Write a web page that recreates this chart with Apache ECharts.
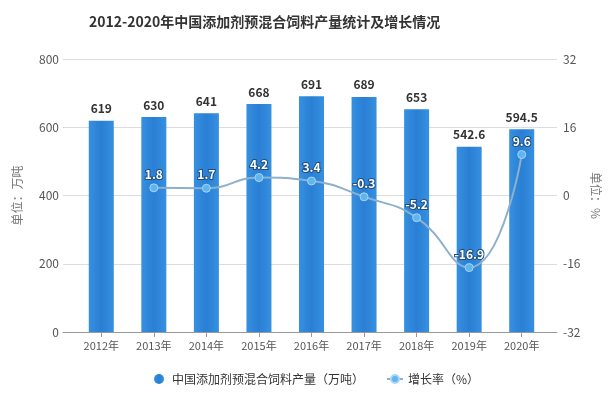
<!DOCTYPE html>
<html><head><meta charset="utf-8">
<script src="https://cdn.jsdelivr.net/npm/echarts@6/dist/echarts.min.js"></script>
<style>html,body{margin:0;padding:0;background:#fff}#c{width:612px;height:396px}</style>
</head><body><div id="c"></div>
<script>
var categories = ['2012年','2013年','2014年','2015年','2016年','2017年','2018年','2019年','2020年'];
var production = [619, 630, 641, 668, 691, 689, 653, 542.6, 594.5];
var growth = [null, 1.8, 1.7, 4.2, 3.4, -0.3, -5.2, -16.9, 9.6];
var seriesNames = ['中国添加剂预混合饲料产量（万吨）', '增长率（%）'];
var titleText = '2012-2020年中国添加剂预混合饲料产量统计及增长情况';
var leftTicks = {min:0, max:800, interval:200};
var rightTicks = {min:-32, max:32, interval:16};

var chart = echarts.init(document.getElementById('c'), null, {renderer:'canvas'});
var font = '"Microsoft YaHei","Noto Sans CJK SC",sans-serif';
chart.setOption({
  animation:false,
  backgroundColor:'#fff',
  textStyle:{fontFamily:font},
  title:{text:titleText,left:84,top:10,textStyle:{fontSize:14,fontWeight:'bold',color:'#333',fontFamily:font}},
  grid:[
    {left:63,right:55,top:59,bottom:64},
    {left:75,right:64,top:59,bottom:64}
  ],
  legend:{bottom:6,left:149,itemGap:22,itemWidth:16,itemHeight:10,
    textStyle:{fontSize:12,color:'#333'},
    data:[{name:seriesNames[0],icon:'circle'},{name:seriesNames[1]}]},
  xAxis:[
    {type:'category',gridIndex:0,data:categories,
      axisLine:{lineStyle:{color:'#999'}},axisTick:{show:false},axisLabel:{show:false}},
    {type:'category',gridIndex:1,data:categories,
      axisLine:{show:false},axisTick:{show:true,alignWithLabel:true,length:5,lineStyle:{color:'#999'}},
      axisLabel:{color:'#555',fontSize:11,margin:8}}
  ],
  yAxis:[
    {type:'value',gridIndex:0,min:leftTicks.min,max:leftTicks.max,interval:leftTicks.interval,
      name:'单位：万吨',nameLocation:'middle',nameGap:40,nameMoveOverlap:false,
      nameTextStyle:{color:'#777',fontSize:12},
      axisLine:{show:false},axisTick:{show:false},
      axisLabel:{color:'#555',fontSize:12,margin:4},
      splitLine:{lineStyle:{color:'#ddd'}}},
    {type:'value',gridIndex:0,position:'right',min:rightTicks.min,max:rightTicks.max,interval:rightTicks.interval,
      name:'单位：%',nameLocation:'middle',nameGap:33,nameRotate:-90,nameMoveOverlap:false,
      nameTextStyle:{color:'#777',fontSize:12},
      axisLine:{show:false},axisTick:{show:false},
      axisLabel:{color:'#555',fontSize:12,margin:6},
      splitLine:{show:false}},
    {type:'value',gridIndex:1,min:leftTicks.min,max:leftTicks.max,interval:leftTicks.interval,show:false},
    {type:'value',gridIndex:1,position:'right',min:rightTicks.min,max:rightTicks.max,interval:rightTicks.interval,show:false}
  ],
  series:[
    {name:seriesNames[0],type:'bar',data:production,barWidth:25,xAxisIndex:1,yAxisIndex:2,
      itemStyle:{color:new echarts.graphic.LinearGradient(0,0,1,0,[
        {offset:0,color:'#3690e0'},{offset:0.5,color:'#2a7fd4'},{offset:1,color:'#3690e0'}])},
      label:{show:true,position:'top',distance:6,color:'#333',fontWeight:'bold',fontSize:12}},
    {name:seriesNames[1],type:'line',data:growth,xAxisIndex:1,yAxisIndex:3,smooth:true,
      symbol:'circle',symbolSize:8,connectNulls:false,
      lineStyle:{color:'#8db0cc',width:2},
      itemStyle:{color:'#5fb5f0',borderColor:'#a9d6f7',borderWidth:1},
      label:{show:true,position:'top',distance:3,color:'#fff',fontWeight:'bold',fontSize:12,
        textBorderColor:'#1f4f7e',textBorderWidth:2}}
  ]
});
</script></body></html>
